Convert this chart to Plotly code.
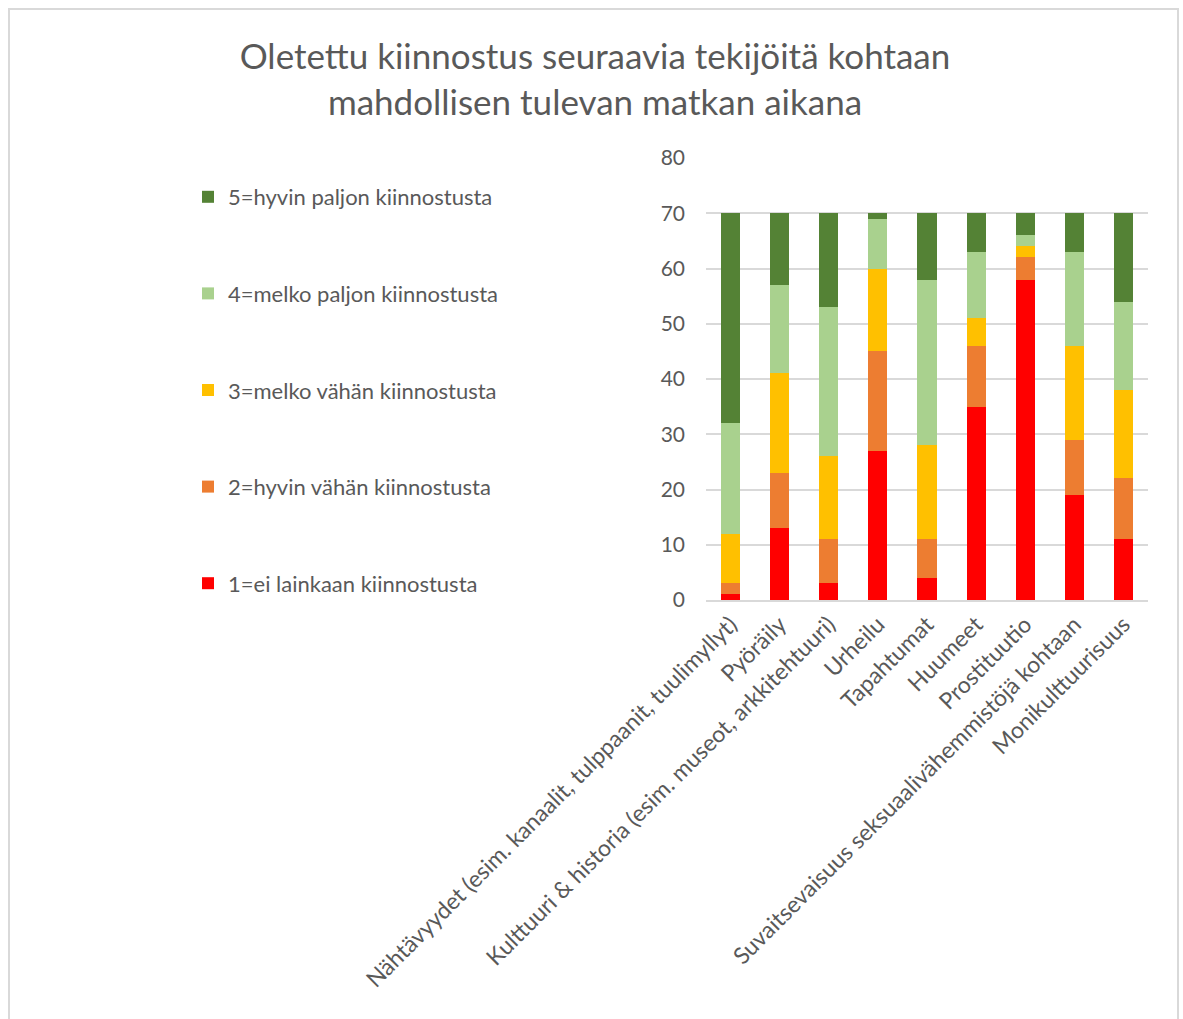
import plotly.graph_objects as go

categories = [
    "Nähtävyydet (esim. kanaalit, tulppaanit, tuulimyllyt)",
    "Pyöräily",
    "Kulttuuri &amp; historia (esim. museot, arkkitehtuuri)",
    "Urheilu",
    "Tapahtumat",
    "Huumeet",
    "Prostituutio",
    "Suvaitsevaisuus seksuaalivähemmistöjä kohtaan",
    "Monikulttuurisuus",
]

level1 = [1, 13, 3, 27, 4, 35, 58, 19, 11]
level2 = [2, 10, 8, 18, 7, 11, 4, 10, 11]
level3 = [9, 18, 15, 15, 17, 5, 2, 17, 16]
level4 = [20, 16, 27, 9, 30, 12, 2, 17, 16]
level5 = [38, 13, 17, 1, 12, 7, 4, 7, 16]

series_names = [
    "1=ei lainkaan kiinnostusta",
    "2=hyvin vähän kiinnostusta",
    "3=melko vähän kiinnostusta",
    "4=melko paljon kiinnostusta",
    "5=hyvin paljon kiinnostusta",
]
series_values = [level1, level2, level3, level4, level5]
series_colors = ["#ff0000", "#ed7d31", "#ffc000", "#a9d18e", "#548235"]

title_text = "Oletettu kiinnostus seuraavia tekijöitä kohtaan<br>mahdollisen tulevan matkan aikana"

FONT = "Lato, 'Open Sans', sans-serif"
TEXT_COLOR = "#595959"

# Page and plot-area geometry in pixels
W, H = 1183, 1019
L, R, T, B = 706, 35, 158, 419
pw, ph = W - L - R, H - T - B


def px_x(p):
    return (p - L) / pw


def px_y(p):
    return (H - B - p) / ph


fig = go.Figure()
n = len(series_names)
for i, (name, vals, col) in enumerate(zip(series_names, series_values, series_colors)):
    fig.add_trace(go.Bar(
        x=categories,
        y=vals,
        name=name,
        legendgroup=name,
        legendrank=(n - i) * 10,  # highest level listed first
        marker=dict(color=col, line=dict(width=0)),
    ))

fig.update_layout(
    width=W,
    height=H,
    barmode="stack",
    bargap=0.61,
    paper_bgcolor="white",
    plot_bgcolor="white",
    margin=dict(l=L, r=R, t=T, b=B, pad=0),
    font=dict(family=FONT, color=TEXT_COLOR),
    title=dict(
        text=title_text,
        font=dict(family=FONT, size=35, color=TEXT_COLOR),
        x=595 / W,
        xanchor="center",
        y=1 - 69 / H,
        yanchor="middle",
    ),
    legend=dict(
        traceorder="grouped",
        x=px_x(188),
        xanchor="left",
        y=px_y(176),
        yanchor="top",
        font=dict(family=FONT, size=22, color=TEXT_COLOR),
        tracegroupgap=65,
        itemwidth=30,
        bgcolor="rgba(0,0,0,0)",
    ),
    xaxis=dict(
        tickangle=-45,
        tickfont=dict(family=FONT, size=23, color=TEXT_COLOR),
        showgrid=False,
        showline=True,
        linecolor="#d9d9d9",
        linewidth=2,
        ticks="",
    ),
    yaxis=dict(
        range=[0, 80],
        dtick=10,
        tickfont=dict(family=FONT, size=21, color=TEXT_COLOR),
        showgrid=True,
        gridcolor="#d9d9d9",
        gridwidth=2,
        zeroline=False,
        ticks="",
        ticklabelstandoff=20,
    ),
    shapes=[
        dict(
            type="rect",
            xref="paper",
            yref="paper",
            x0=px_x(9),
            x1=px_x(1178),
            y0=px_y(1030),
            y1=px_y(9),
            line=dict(color="#d9d9d9", width=2),
            fillcolor="rgba(0,0,0,0)",
            layer="below",
        )
    ],
)

fig.write_html("out.html")
